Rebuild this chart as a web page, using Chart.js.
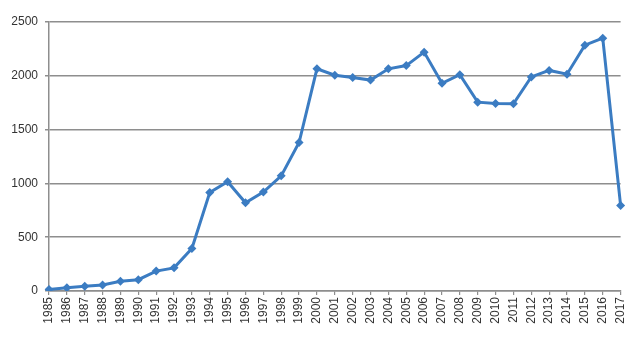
<!DOCTYPE html>
<html>
<head>
<meta charset="utf-8">
<script src="https://cdn.jsdelivr.net/npm/chart.js@4"></script>
<style>
  html, body { margin: 0; padding: 0; background: #fff; }
  #wrap { width: 637px; height: 361px; }
</style>
</head>
<body>
<div id="wrap"><canvas id="chart" width="637" height="361"></canvas></div>
<script>
// years along the bottom axis
const years = [
    '1985', '1986', '1987', '1988', '1989', '1990', '1991', '1992', '1993', '1994',
    '1995', '1996', '1997', '1998', '1999', '2000', '2001', '2002', '2003', '2004',
    '2005', '2006', '2007', '2008', '2009', '2010', '2011', '2012', '2013', '2014',
    '2015', '2016', '2017'
];

// values
const counts = [
    15, 30, 45, 55, 90, 105, 185, 215, 395, 915,
    1015, 820, 920, 1070, 1380, 2065, 2005, 1985, 1960, 2065,
    2095, 2220, 1930, 2010, 1755, 1742, 1740, 1990, 2050, 2015,
    2285, 2350, 795
];

const yTicks = [0, 500, 1000, 1500, 2000, 2500];

const blue = '#3b7cc2',
      grey = '#8e8e8e',
      font = {family: '"Liberation Sans", Arial, sans-serif', size: 12};

new Chart(document.getElementById('chart'), {
    type: 'line',
    data: {
        labels: years,
        datasets: [{
            data: counts,
            borderColor: blue,
            backgroundColor: blue,
            borderWidth: 3,
            tension: 0,
            pointStyle: 'rectRot',
            pointRadius: 4.5,
            pointBorderWidth: 0,
            pointBackgroundColor: blue
        }]
    },
    options: {
        responsive: false,
        animation: false,
        layout: {padding: {top: 22, right: 16, bottom: 0, left: 0}},
        plugins: {legend: {display: false}, tooltip: {enabled: false}},
        scales: {
            x: {
                offset: false,
                grid: {drawOnChartArea: false, drawTicks: true, tickLength: 4, color: grey, lineWidth: 1.2},
                border: {display: true, color: grey, width: 1.5},
                ticks: {
                    autoSkip: false, maxRotation: 90, minRotation: 90,
                    padding: 2, color: '#333', font: font
                },
                afterFit: scale => { scale.height = 70; }
            },
            y: {
                min: 0,
                max: 2500,
                afterBuildTicks: scale => { scale.ticks = yTicks.map(v => ({value: v})); },
                grid: {color: grey, lineWidth: 1.5, drawTicks: true, tickLength: 4},
                border: {display: true, color: grey, width: 1.5},
                ticks: {padding: 7, color: '#333', font: font, callback: v => String(v)},
                afterFit: scale => { scale.width = 49; }
            }
        }
    }
});
</script>
</body>
</html>
